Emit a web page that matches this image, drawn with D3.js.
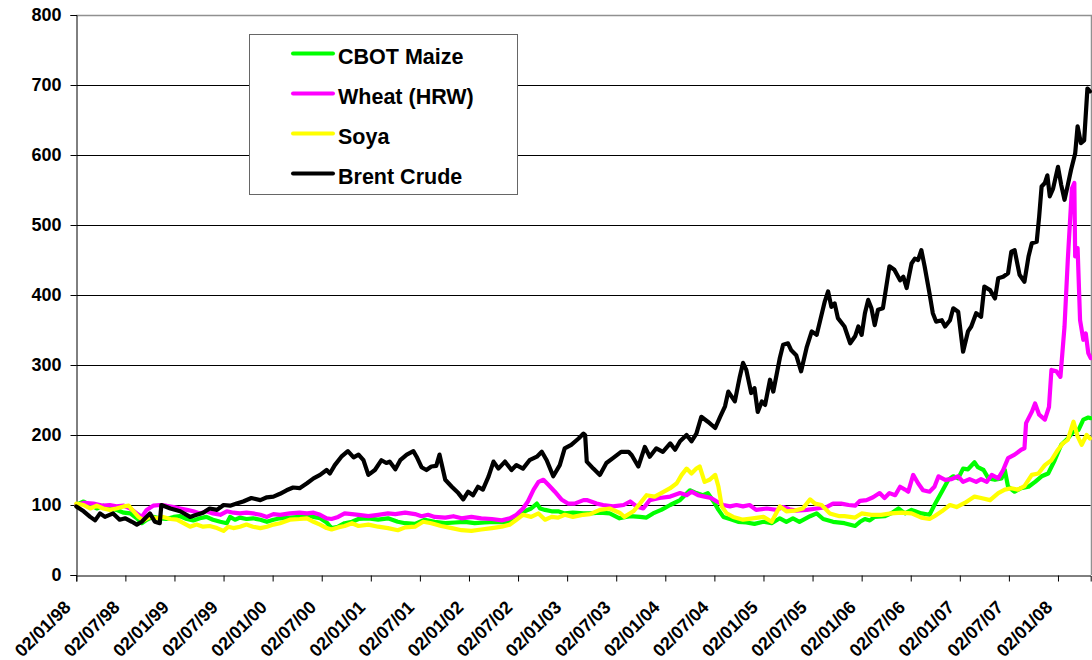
<!DOCTYPE html>
<html>
<head>
<meta charset="utf-8">
<script src="https://cdn.jsdelivr.net/npm/d3@7"></script>
<style>
body { margin: 0; background: #fff; }
svg text { font-family: "Liberation Sans", Arial, sans-serif; font-weight: bold; fill: #000; }
</style>
</head>
<body>
<script>
/* Price indices (02/01/98 = 100), x = months since 02/01/98 */
var tickLabels = ["02/01/98", "02/07/98", "02/01/99", "02/07/99", "02/01/00", "02/07/00",
    "02/01/01", "02/07/01", "02/01/02", "02/07/02", "02/01/03", "02/07/03", "02/01/04",
    "02/07/04", "02/01/05", "02/07/05", "02/01/06", "02/07/06", "02/01/07", "02/07/07", "02/01/08"];

var yTicks = [0, 100, 200, 300, 400, 500, 600, 700, 800];

var seriesNames = ["CBOT Maize", "Wheat (HRW)", "Soya", "Brent Crude"];
var seriesColors = ["#00ff00", "#ff00ff", "#ffff00", "#000000"];

var maize = [[0,100],[0.9,105],[1.7,100],[2.5,95],[3.3,99],[4.1,95],[4.9,93],[5.8,89],[6.6,88],[7.4,81],[8,74],[8.6,79],[9.4,83],[10.2,81],[11,80],[11.9,83],[12.7,84],[13.5,80],[14.3,78],[15.1,81],[15.9,83],[16.7,79],[17.6,76],[18.4,74],[18.8,83],[19.4,79],[20,82],[20.8,80],[21.6,81],[22.5,79],[23.3,76],[24.1,79],[24.9,81],[26.1,82],[27.3,83],[28.2,86],[29,83],[29.8,81],[30.6,75],[31.2,67],[32,69],[32.8,74],[33.7,76],[34.5,80],[35.7,81],[36.9,79],[38.1,81],[39.3,76],[40.2,74],[41.4,73],[42.6,79],[43.8,76],[45.1,74],[46.3,75],[47.5,76],[48.7,74],[49.9,75],[51.2,76],[52.4,75],[53.2,79],[54,83],[54.8,91],[55.6,95],[56.3,102],[56.7,95],[57.3,93],[58.1,91],[58.9,91],[59.7,88],[60.7,89],[62,88],[62.8,88],[64,89],[65.2,88],[66.4,81],[67.7,84],[68.9,83],[69.7,82],[70.5,88],[71.5,93],[72.6,100],[73.8,107],[75,121],[75.8,117],[76.6,114],[77.2,117],[77.9,105],[78.5,93],[79.1,83],[79.9,80],[80.9,76],[81.9,75],[82.9,73],[84,76],[85,74],[86,81],[86.8,76],[87.6,81],[88.4,76],[89.7,84],[90.5,88],[91.3,80],[92.5,76],[93.9,74],[95.2,70],[95.8,76],[96.4,80],[97,78],[97.6,83],[98.8,84],[99.6,88],[100.5,95],[101.3,88],[102.1,93],[103.3,88],[104.3,86],[104.9,100],[105.8,119],[106.6,136],[107.2,141],[107.8,138],[108.4,152],[109,151],[109.8,161],[110.2,154],[110.9,150],[111.5,138],[112.3,136],[113.1,138],[113.5,150],[113.9,126],[114.7,119],[115.5,124],[116.4,126],[117.2,133],[118,141],[118.8,145],[119.6,164],[120.4,186],[121.2,195],[121.9,205],[122.5,207],[123.1,222],[123.7,225],[124,224]];

var wheat = [[0,100],[0.9,103],[2.1,102],[3.3,99],[4.1,100],[4.9,98],[5.8,99],[6.6,95],[7.4,88],[8,83],[8.6,93],[9.4,99],[10.2,100],[11,99],[11.9,97],[12.7,95],[13.5,93],[14.3,91],[15.1,88],[15.9,91],[16.7,88],[17.6,86],[18.4,91],[19.2,89],[20,88],[20.8,89],[21.6,88],[22.5,86],[23.3,83],[24.1,87],[24.9,86],[26.1,88],[27.3,89],[28.2,88],[29,89],[29.8,86],[30.6,81],[31.2,80],[32,83],[32.8,88],[33.7,87],[34.5,86],[35.7,84],[36.9,86],[38.1,88],[39,87],[40.2,89],[41.4,87],[42.2,84],[43,86],[43.8,83],[45.1,82],[46.1,84],[47.1,81],[48.3,83],[49.5,81],[50.8,80],[52,78],[53,81],[53.8,86],[54.6,95],[55.2,105],[55.9,122],[56.5,133],[57.1,136],[57.7,129],[58.5,119],[59.3,108],[60.1,102],[60.9,102],[62,107],[62.4,107],[63.6,102],[64.4,100],[65.6,98],[66.9,100],[67.7,105],[68.5,98],[69.3,95],[70.1,107],[71.3,110],[72.6,112],[73.8,117],[74.6,114],[75.2,119],[76,114],[76.8,112],[77.6,110],[78.3,105],[79.1,100],[79.9,98],[80.7,100],[81.5,98],[82.3,100],[83.1,93],[84.4,95],[85.6,93],[86.4,97],[87.2,94],[88,92],[89.3,93],[90.5,95],[91.7,97],[92.5,102],[93.5,102],[94.4,100],[95.2,99],[95.8,106],[96.6,107],[97.4,111],[98.2,117],[98.8,110],[99.4,117],[100.1,114],[100.7,126],[101.3,122],[101.7,119],[102.3,143],[102.9,131],[103.5,121],[104.3,119],[104.9,126],[105.4,141],[106.2,136],[107,137],[107.8,141],[108.4,133],[109.2,137],[110,133],[110.6,137],[111.3,133],[111.9,143],[112.7,138],[113.3,150],[113.9,167],[114.7,172],[115.5,179],[115.9,181],[116.1,217],[116.8,233],[117.2,245],[117.7,229],[118.4,222],[118.9,240],[119.2,293],[119.8,291],[120.3,283],[120.8,355],[121.2,450],[121.7,552],[122,560],[122.1,455],[122.4,467],[122.7,364],[123.1,336],[123.4,345],[123.7,317],[124,310]];

var soya = [[0,102],[0.9,100],[1.7,95],[2.5,99],[3.3,95],[4.1,93],[4.9,95],[5.8,98],[6.4,99],[7,91],[7.6,83],[8.2,78],[9,83],[9.8,81],[10.6,83],[11.5,80],[12.3,79],[13.1,74],[13.9,69],[14.7,72],[15.5,69],[16.3,70],[17.2,67],[18,63],[18.6,69],[19.2,67],[20,69],[20.8,72],[21.6,69],[22.5,67],[23.3,69],[24.1,72],[24.9,74],[26.1,79],[27.3,80],[28.2,81],[29,76],[29.8,72],[30.6,67],[31.2,65],[32,68],[32.8,70],[33.7,74],[34.5,70],[35.7,72],[36.9,69],[38.1,67],[39.3,64],[40.2,68],[41.4,69],[42.4,76],[43.4,74],[44.6,70],[45.9,67],[47.1,64],[48.3,63],[49.5,65],[50.8,67],[52,69],[53,72],[53.8,79],[54.6,86],[55.6,83],[56.5,88],[57.3,79],[58.1,83],[58.9,82],[59.7,86],[60.7,83],[62,86],[62.8,87],[64,93],[65.2,95],[66.4,89],[67,83],[68.1,91],[68.9,102],[69.7,114],[70.7,112],[71.5,117],[72.6,124],[73.4,131],[74,143],[74.6,152],[75.2,145],[75.8,152],[76.2,155],[76.8,133],[77.4,136],[78.1,143],[78.5,126],[78.9,98],[79.5,88],[80.3,83],[81.5,79],[82.7,81],[84,83],[85,76],[86,98],[86.8,91],[87.8,92],[88.8,95],[89.7,108],[90.3,102],[91.1,100],[92.1,88],[93.3,84],[93.9,84],[95.2,82],[96,88],[97.2,86],[98.4,86],[99.6,88],[100.9,89],[102.1,88],[103.3,82],[104.3,80],[104.9,84],[105.8,91],[106.8,100],[107.6,97],[108.6,103],[109.8,112],[110.6,110],[111.7,107],[112.7,117],[113.5,122],[114.3,124],[115.1,122],[115.9,127],[116.8,143],[117.6,145],[118.4,157],[119.2,164],[120,179],[120.6,188],[121.2,193],[121.9,219],[122.4,198],[122.9,186],[123.5,200],[123.9,195]];

var brent = [[0,98],[0.9,91],[1.7,83],[2.3,78],[2.9,88],[3.5,83],[4.5,88],[5.3,79],[6,81],[6.8,76],[7.4,72],[8,76],[9,88],[9.6,76],[10.2,74],[10.4,100],[11.5,95],[12.7,91],[13.9,83],[14.7,86],[15.5,89],[16.3,95],[17.2,93],[18,100],[18.8,99],[19.6,102],[20.4,105],[21.4,110],[22.5,107],[23.3,111],[24.1,112],[24.9,116],[25.7,121],[26.5,125],[27.3,124],[28.2,131],[29,138],[29.8,143],[30.6,150],[31,145],[31.6,157],[32.4,169],[33.2,177],[33.9,168],[34.5,172],[35.1,164],[35.7,143],[36.5,150],[37.3,164],[37.9,160],[38.3,162],[39,151],[39.6,164],[40.4,172],[41.2,177],[41.6,169],[42.2,154],[42.8,150],[43.4,155],[44,156],[44.4,172],[45.1,136],[45.9,126],[46.7,117],[47.3,108],[47.9,119],[48.5,114],[49.1,126],[49.7,122],[50.4,141],[51,162],[51.6,152],[52.4,162],[53.2,150],[53.8,157],[54.6,152],[55.4,164],[56.3,169],[56.9,176],[57.5,164],[58.3,141],[59.1,157],[59.7,181],[60.5,186],[61.4,195],[62,202],[62.2,200],[62.4,162],[63.2,152],[64,143],[64.8,160],[65.6,167],[66.6,176],[67.5,176],[67.9,171],[68.7,155],[69.5,183],[70.1,169],[70.9,181],[71.7,176],[72.6,188],[73.2,179],[73.8,191],[74.6,200],[75.2,191],[75.8,202],[76.4,226],[77.2,219],[78.1,210],[78.7,226],[79.3,241],[79.7,262],[80.5,248],[81.1,283],[81.5,303],[81.9,293],[82.5,260],[82.9,267],[83.3,233],[83.8,248],[84.2,243],[84.8,279],[85.2,262],[86,310],[86.4,329],[87,331],[87.4,321],[88,314],[88.6,291],[89.3,326],[89.9,348],[90.5,343],[90.9,362],[91.5,391],[91.9,405],[92.3,383],[92.7,388],[93.1,367],[93.9,355],[94.6,331],[95.2,341],[95.6,355],[96,343],[96.4,374],[96.8,393],[97.2,381],[97.6,357],[98,379],[98.6,381],[99.4,441],[100,436],[100.7,421],[101.1,426],[101.5,410],[102.1,445],[102.5,452],[102.9,450],[103.3,464],[103.7,441],[104.3,402],[104.7,374],[105.1,362],[105.8,364],[106.2,355],[106.8,364],[107.2,381],[107.8,376],[108.4,319],[109,348],[109.4,355],[110,374],[110.6,369],[111,412],[111.7,407],[112.3,395],[112.7,424],[113.3,426],[113.9,431],[114.3,462],[114.7,464],[115.3,429],[115.9,419],[116.4,455],[116.8,474],[117.4,476],[117.7,512],[118,555],[118.4,560],[118.7,571],[119,541],[119.4,552],[120,583],[120.4,557],[120.8,536],[121.2,557],[121.6,579],[122.1,602],[122.4,641],[122.8,617],[123.2,621],[123.6,695],[123.9,691]];

var allSeries = [maize, wheat, soya, brent];

var width = 1092,
    height = 660;

var svg = d3.select("body")
    .append("svg")
    .attr("width", width)
    .attr("height", height);

// scales: 6 months per x tick, 100 per y gridline
var x = d3.scaleLinear()
    .domain([0, 124])
    .range([76.3, 1090.7]);

var y = d3.scaleLinear()
    .domain([0, 800])
    .range([575, 15]);

// horizontal gridlines
svg.append("g")
    .selectAll("line")
    .data(yTicks.slice(1, -1))
    .enter().append("line")
    .attr("x1", x(0))
    .attr("x2", x(124))
    .attr("y1", function(d) { return Math.round(y(d)) + 0.5; })
    .attr("y2", function(d) { return Math.round(y(d)) + 0.5; })
    .attr("stroke", "#000")
    .attr("stroke-width", 1);

// plot area border on top and right (grey)
svg.append("path")
    .attr("d", "M" + x(0) + "," + (y(800) + 0.5) + "H" + (Math.round(x(124)) + 0.5) + "V" + y(0))
    .attr("fill", "none")
    .attr("stroke", "#909090")
    .attr("stroke-width", 1.5);

// y axis
var yAxis = svg.append("g")
    .attr("transform", "translate(" + (Math.round(x(0)) + 0.5) + ",0)")
    .call(d3.axisLeft(y).tickValues(yTicks).tickSize(6).tickPadding(9));
yAxis.select(".domain").attr("stroke", "#000");
yAxis.selectAll("text")
    .attr("font-size", "18px")
    .attr("font-family", "'Liberation Sans', Arial, sans-serif")
    .attr("font-weight", "bold");

// x axis, ticks every 6 months, labels slanted 45 degrees
var xTickValues = tickLabels.map(function(d, i) { return i * 6; });
var xAxis = svg.append("g")
    .attr("transform", "translate(0," + (Math.round(y(0)) + 0.5) + ")")
    .call(d3.axisBottom(x).tickValues(xTickValues).tickSize(6).tickFormat(function(d, i) { return tickLabels[i]; }));
xAxis.select(".domain").attr("stroke", "#000");
xAxis.selectAll("text")
    .attr("font-size", "18px")
    .attr("font-family", "'Liberation Sans', Arial, sans-serif")
    .attr("font-weight", "bold")
    .attr("text-anchor", "end")
    .attr("y", 0)
    .attr("dy", 0)
    .attr("transform", "translate(-5,33) rotate(-45)");

// series lines, drawn in legend order so Brent ends up on top
var line = d3.line()
    .x(function(d) { return x(d[0]); })
    .y(function(d) { return y(d[1]); });

svg.append("g")
    .selectAll("path")
    .data(allSeries)
    .enter().append("path")
    .attr("d", line)
    .attr("fill", "none")
    .attr("stroke", function(d, i) { return seriesColors[i]; })
    .attr("stroke-width", 4.2)
    .attr("stroke-linejoin", "round")
    .attr("stroke-linecap", "round");

// legend box
var legend = svg.append("g")
    .attr("class", "legend");

legend.append("rect")
    .attr("x", 249.5)
    .attr("y", 34.5)
    .attr("width", 268)
    .attr("height", 160)
    .attr("fill", "#fff")
    .attr("stroke", "#666")
    .attr("stroke-width", 1);

var rows = legend.selectAll("g.row")
    .data(seriesNames)
    .enter().append("g")
    .attr("class", "row")
    .attr("transform", function(d, i) { return "translate(0," + (53.5 + i * 40) + ")"; });

rows.append("line")
    .attr("x1", 293)
    .attr("x2", 333)
    .attr("stroke", function(d, i) { return seriesColors[i]; })
    .attr("stroke-width", 4)
    .attr("stroke-linecap", "round");

rows.append("text")
    .attr("x", 338)
    .attr("y", 10)
    .attr("font-size", "21.5px")
    .text(function(d) { return d; });
</script>
</body>
</html>
